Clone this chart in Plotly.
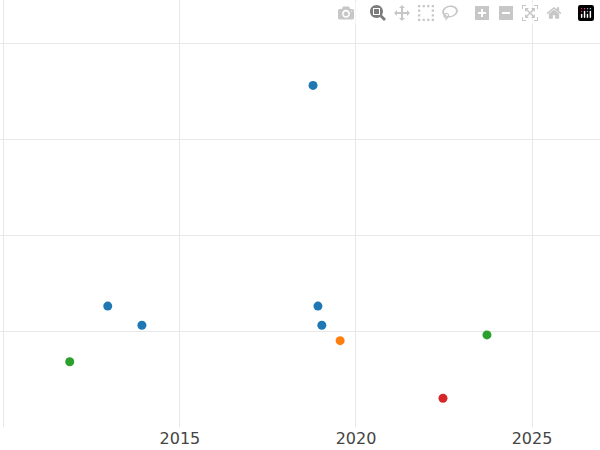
import plotly.graph_objects as go

# values
blue_x = [2018.78, 2012.95, 2013.92, 2018.92, 2019.03]
blue_y = [3.56, 1.26, 1.06, 1.26, 1.06]
green_x = [2011.87, 2023.72]
green_y = [0.68, 0.96]
orange_x = [2019.55]
orange_y = [0.90]
red_x = [2022.47]
red_y = [0.30]

series = [
    (blue_x, blue_y, "#1f77b4"),
    (green_x, green_y, "#2ca02c"),
    (orange_x, orange_y, "#ff7f0e"),
    (red_x, red_y, "#d62728"),
]

fig = go.Figure()
for xs, ys, color in series:
    fig.add_trace(go.Scatter(x=xs, y=ys, mode="markers",
                             marker=dict(color=color, size=9)))

fig.update_layout(
    width=600, height=450,
    showlegend=False,
    plot_bgcolor="white", paper_bgcolor="white",
    margin=dict(l=0, r=0, t=0, b=23),
    font=dict(family="DejaVu Sans", size=16, color="#444"),
    xaxis=dict(range=[2009.89, 2026.93], tickvals=[2010, 2015, 2020, 2025],
               ticktext=["", "2015", "2020", "2025"],
               showgrid=True, gridcolor="#e8e8e8", zeroline=False),
    yaxis=dict(range=[0, 4.45], dtick=1, showticklabels=False,
               showgrid=True, gridcolor="#e8e8e8", zeroline=False),
)

# drop the page's default body margin so the figure fills the window
fig.write_html("out.html",
               post_script="document.body.style.margin='0';document.body.style.overflow='hidden';")
